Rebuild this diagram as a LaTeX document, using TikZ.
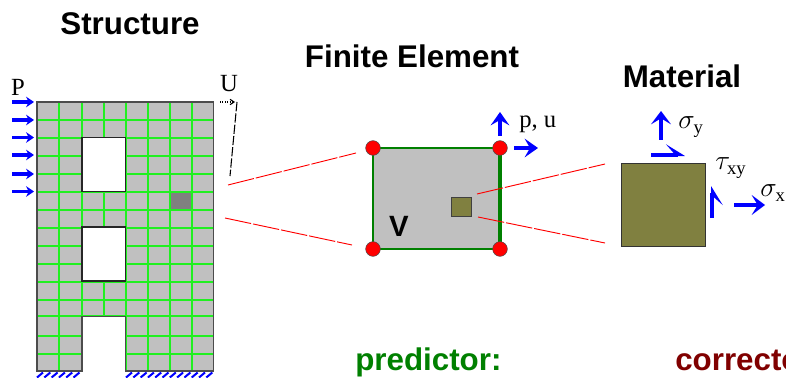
\documentclass[tikz,border=0pt]{standalone}
\usepackage{amsmath}
\usepackage{fontspec}
\setmainfont{Liberation Serif}
\setsansfont{Liberation Sans}
\usetikzlibrary{arrows.meta}
\definecolor{meshgrey}{HTML}{C0C0C0}
\definecolor{meshgreen}{HTML}{20F020}
\definecolor{olivebox}{HTML}{808040}
\definecolor{darkred}{HTML}{800000}
\definecolor{darkgreen}{HTML}{008000}
\tikzset{
  heading/.style={font=\sffamily\bfseries\fontsize{23.5}{26}\selectfont},
  serifnote/.style={font=\fontsize{18.5}{20}\selectfont, inner sep=0pt},
  mathnote/.style={anchor=west, inner sep=0pt, font=\fontsize{20}{22}\selectfont},
  meshline/.style={meshgreen, line width=1.5pt},
  loadarrow/.style={blue, line width=2.5pt, -{Stealth[length=6pt,width=8pt,inset=2pt]}},
  nodearrow/.style={blue, line width=2.5pt, -{Stealth[length=10pt,width=14pt,inset=4pt]}},
  bigarrow/.style={blue, line width=2.5pt, -{Stealth[length=10pt,width=15pt,inset=4.5pt]}},
  zoomline/.style={red, line width=0.7pt, dash pattern=on 20pt off 1.5pt},
  nodedot/.style={circle, fill=red, draw=black!70, line width=0.4pt, minimum size=11pt, inner sep=0pt}
}
\begin{document}
\begin{tikzpicture}[x=0.75pt,y=-0.75pt]
  \clip (0,0) rectangle (786,378);

  % structure
  \fill[meshgrey] (37,102) rectangle (213.5,371);
  \fill[gray] (170,191) rectangle (192,209);
  \foreach \x in {59,82,104,126,148,170,192}
    \draw[meshline] (\x,102) -- (\x,371);
  \foreach \y in {120,138,156,174,192,210,228,246,264,282,300,316,336,354}
    \draw[meshline] (37,\y) -- (213.5,\y);
  \filldraw[fill=white, draw=black!85, line width=0.8pt] (82,137.5) rectangle (125.5,191.5);
  \filldraw[fill=white, draw=black!85, line width=0.8pt] (82,227) rectangle (125.5,281);
  \fill[white] (82,316.5) rectangle (125.5,372.5);
  \draw[black!70, line width=1pt] (37,371) -- (37,102) -- (213.5,102) -- (213.5,371) -- (125.5,371)
    -- (125.5,316.5) -- (82,316.5) -- (82,371) -- cycle;
  \foreach \y in {102,120,137.5,155,174,191.5}
    \draw[loadarrow] (12,\y) -- (34,\y);
  \foreach \x in {37,44.3,51.6,58.9,66.2,73.5}
    \draw[blue, line width=1.5pt] (\x,377.5) -- (\x+6,372.5);
  \foreach \x in {126,133.3,140.6,147.9,155.2,162.5,169.8,177.1,184.4,191.7,199,206.3}
    \draw[blue, line width=1.5pt] (\x,377.5) -- (\x+6,372.5);
  \node[heading] (structtitle) at (130,24) {Structure};
  \node[serifnote] (loadP) at (18,87) {P};
  \node[serifnote] (dispU) at (229,84) {U};
  \draw[black, line width=0.8pt, densely dotted, -{Straight Barb[length=3pt,width=4pt]}] (220,102) -- (235,102);
  \draw[black, line width=0.8pt, dash pattern=on 7pt off 1.5pt] (237,102) -- (230,176);

  % zoom lines
  \coordinate (sA) at (228,185);
  \coordinate (sB) at (225,218);
  \coordinate (eA) at (356,153);
  \coordinate (eB) at (352,245);
  \coordinate (gA) at (477,194);
  \coordinate (gB) at (478,217);
  \coordinate (mA) at (605,164);
  \coordinate (mB) at (605,243);

  % finite element
  \node[heading] (elemtitle) at (412,56) {Finite Element};
  \filldraw[fill=meshgrey, draw=darkgreen, line width=1.5pt] (372.5,148) rectangle (500,249);
  \draw[darkgreen, line width=2.6pt] (500,148) -- (500,249);
  \filldraw[fill=olivebox, draw=black!75, line width=0.7pt] (451.5,197) rectangle (471,216);
  \draw[zoomline] (sA) -- (eA);
  \draw[zoomline] (sB) -- (eB);
  \draw[zoomline] (gA) -- (mA);
  \draw[zoomline] (gB) -- (mB);
  \node[nodedot] (n1) at (373,148) {};
  \node[nodedot] (n2) at (500,148) {};
  \node[nodedot] (n3) at (373,249) {};
  \node[nodedot] (n4) at (500,249) {};
  \node[font=\sffamily\bfseries\fontsize{22}{24}\selectfont, inner sep=0pt] (vol) at (399,226) {V};
  \draw[nodearrow] (500,136) -- (500,112);
  \draw[nodearrow] (514,148) -- (538,148);
  \node[serifnote, anchor=west] (pu) at (519,124) {p, u};

  % material
  \node[heading] (mattitle) at (682,76) {Material};
  \filldraw[fill=olivebox, draw=black!80, line width=0.7pt] (621.5,163) rectangle (705,246);
  \draw[bigarrow] (661,140) -- (661,111);
  \draw[bigarrow] (734,205) -- (765,205);
  \draw[blue, line width=2.5pt, -{Stealth[harpoon,length=13pt,width=16pt,inset=7pt]}] (651,155) -- (685,155);
  \draw[blue, line width=2.5pt, -{Stealth[harpoon,swap,length=13pt,width=16pt,inset=7pt]}] (712,218) -- (712,186);
  \node[mathnote] (sigy) at (678,127) {$\sigma_{\mathrm{y}}$};
  \node[mathnote] (tauxy) at (715,168) {$\tau_{\mathrm{xy}}$};
  \node[mathnote] (sigx) at (760,193) {$\sigma_{\mathrm{x}}$};

  % labels
  \node[heading, text=darkgreen, anchor=west, inner sep=0pt] (pred) at (355,362) {predictor:};
  \node[heading, text=darkred, anchor=west, inner sep=0pt] (corr) at (675,360) {corrector:};
\end{tikzpicture}
\end{document}
